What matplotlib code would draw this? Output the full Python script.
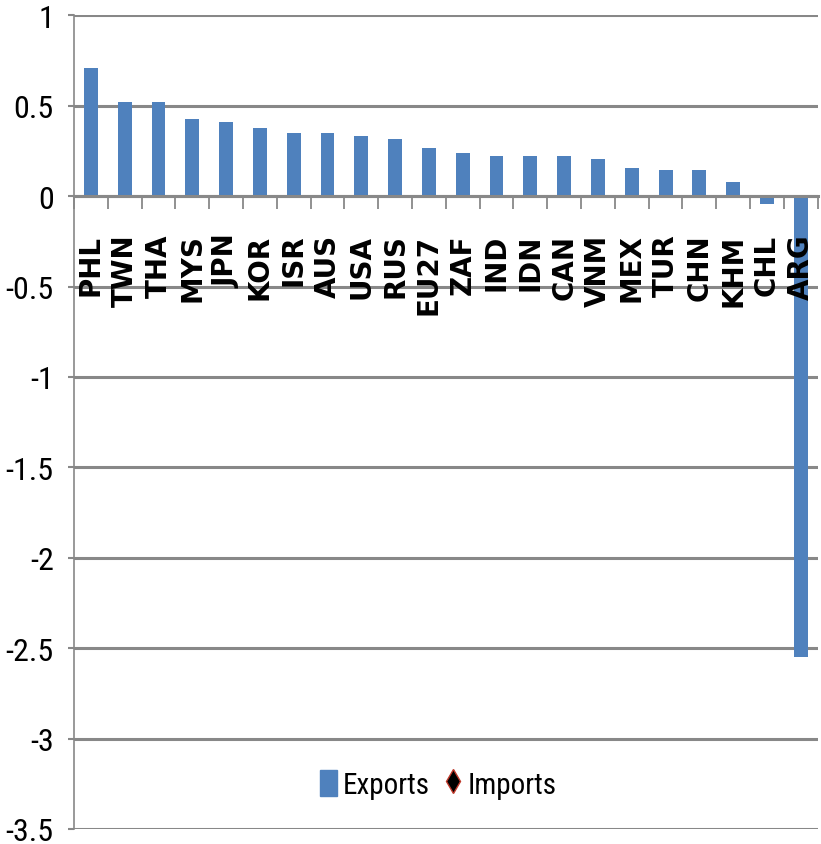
import matplotlib.pyplot as plt
from matplotlib import font_manager
from matplotlib.lines import Line2D
from matplotlib.patches import Patch
import numpy as np

countries = ['PHL', 'TWN', 'THA', 'MYS', 'JPN', 'KOR', 'ISR', 'AUS', 'USA', 'RUS', 'EU27',
             'ZAF', 'IND', 'IDN', 'CAN', 'VNM', 'MEX', 'TUR', 'CHN', 'KHM', 'CHL', 'ARG']
exports = [0.708, 0.518, 0.518, 0.424, 0.41, 0.378, 0.347, 0.347, 0.333, 0.316, 0.268,
           0.236, 0.222, 0.222, 0.222, 0.206, 0.157, 0.143, 0.143, 0.08, -0.045, -2.55]
yticks = [1, 0.5, 0, -0.5, -1, -1.5, -2, -2.5, -3, -3.5]

bar_col = '#4f81bd'
grid_col = '#888888'

# pick a narrow face for the value axis / legend if one is installed
installed = {f.name for f in font_manager.fontManager.ttflist}
narrow_name = next((n for n in ['Liberation Sans Narrow', 'Roboto Condensed', 'Open Sans Condensed',
                                'Noto Sans Condensed', 'DejaVu Sans Condensed']
                    if n in installed), 'Lato')
narrow = [narrow_name, 'DejaVu Sans']

fig = plt.figure(figsize=(8.21, 8.45), dpi=100)
ax = fig.add_axes([0.0901, 0.0178, 0.9059, 0.9629])

x = np.arange(len(countries))
ax.bar(x, exports, width=0.41, color=bar_col, zorder=3)

ax.set_xlim(-0.5, len(countries) - 0.5)
ax.set_ylim(-3.5, 1)
ax.set_yticks(yticks)
ax.set_yticklabels(['%g' % v for v in yticks], family=narrow, fontsize=23)
ax.yaxis.grid(True, color=grid_col, lw=2.2, zorder=1)

# category axis sits on the zero line, labels drawn over the bars
ax.spines['bottom'].set_position(('data', 0))
ax.spines['bottom'].set_color(grid_col)
ax.spines['bottom'].set_linewidth(2.2)
ax.spines['bottom'].set_zorder(4)
ax.spines['left'].set_color(grid_col)
ax.spines['left'].set_linewidth(1.2)
ax.spines['top'].set_visible(False)
ax.spines['right'].set_visible(False)
ax.xaxis.set_zorder(5)

ax.set_xticks(np.arange(len(countries) + 1) - 0.5)
ax.set_xticklabels([])
ax.set_xticks(x, minor=True)
ax.set_xticklabels(countries, minor=True, rotation=90, fontsize=20,
                   fontweight='bold', va='top', ha='center')
ax.tick_params(axis='x', which='major', direction='out', length=9.5, width=1.3, color=grid_col)
ax.tick_params(axis='x', which='minor', length=0, pad=27)
ax.tick_params(axis='y', direction='out', length=4.5, width=1.5, color=grid_col, pad=10)

handles = [Patch(color=bar_col),
           Line2D([], [], ls='none', marker='d', mfc='black', mec='#c0392b', ms=12)]
ax.legend(handles, ['Exports', 'Imports'], loc='center', bbox_to_anchor=(0.49, 0.055),
          ncol=2, frameon=False, prop={'family': narrow, 'size': 21},
          handlelength=0.58, handleheight=1.0, handletextpad=0.2, columnspacing=0.5)

fig.savefig('out.png', dpi=100)
